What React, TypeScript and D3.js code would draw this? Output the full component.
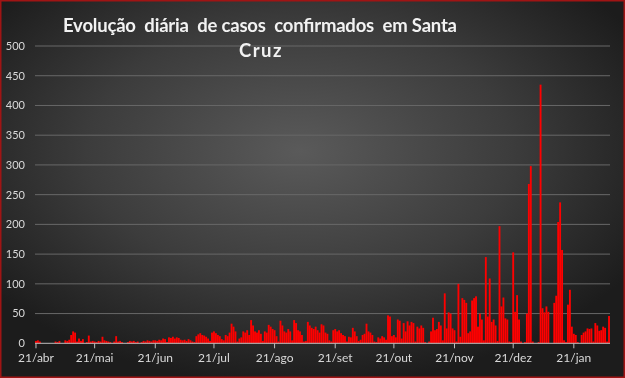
import React from "react";
import * as d3 from "d3";

const TITLE_LINE1 = "Evolução  diária  de casos  confirmados  em Santa";
const TITLE_LINE2 = "Cruz";
const START = new Date(2020, 3, 21);
const MONTHS = ["jan", "fev", "mar", "abr", "mai", "jun", "jul", "ago", "set", "out", "nov", "dez"];
const Y_TICKS = [0, 50, 100, 150, 200, 250, 300, 350, 400, 450, 500];
const TICK_DATES = [
  new Date(2020, 3, 21), new Date(2020, 4, 21), new Date(2020, 5, 21), new Date(2020, 6, 21),
  new Date(2020, 7, 21), new Date(2020, 8, 21), new Date(2020, 9, 21), new Date(2020, 10, 21),
  new Date(2020, 11, 21), new Date(2021, 0, 21),
];
const DAILY_CASES = [
  4, 5, 3, 0, 0, 0, 0, 0, 0, 0,
  3, 2, 4, 0, 0, 5, 4, 6, 14, 20,
  18, 3, 8, 4, 7, 0, 2, 13, 3, 4,
  3, 2, 4, 3, 11, 5, 4, 3, 2, 0,
  3, 12, 3, 4, 2, 0, 0, 2, 4, 3,
  4, 2, 3, 0, 2, 4, 3, 5, 4, 3,
  5, 5, 4, 6, 5, 8, 7, 2, 10, 9,
  11, 8, 10, 9, 6, 5, 6, 4, 7, 5,
  3, 2, 12, 15, 17, 14, 13, 11, 8, 4,
  18, 20, 17, 14, 12, 7, 5, 14, 12, 18,
  33, 28, 20, 3, 8, 10, 20, 18, 22, 14,
  39, 30, 20, 18, 22, 16, 4, 20, 18, 31,
  28, 24, 22, 12, 3, 38, 30, 20, 18, 24,
  20, 5, 39, 34, 22, 20, 14, 3, 4, 36,
  30, 26, 24, 28, 22, 18, 32, 30, 18, 16,
  5, 3, 22, 24, 20, 22, 17, 14, 12, 3,
  11, 10, 26, 20, 12, 4, 6, 14, 16, 33,
  20, 18, 14, 3, 2, 10, 8, 12, 10, 6,
  47, 45, 12, 14, 10, 40, 38, 8, 34, 20,
  37, 30, 36, 34, 3, 28, 25, 30, 26, 2,
  0, 3, 20, 43, 22, 24, 36, 30, 5, 84,
  25, 52, 50, 25, 22, 3, 100, 11, 76, 73,
  68, 17, 20, 72, 76, 79, 28, 50, 40, 5,
  145, 45, 109, 36, 40, 30, 4, 197, 62, 77,
  42, 40, 3, 2, 153, 53, 81, 40, 3, 0,
  2, 50, 268, 298, 3, 0, 0, 2, 435, 59,
  52, 62, 53, 0, 0, 68, 80, 204, 237, 157,
  5, 2, 65, 90, 28, 16, 14, 2, 0, 14,
  18, 20, 25, 24, 25, 3, 34, 30, 21, 22,
  28, 26, 3, 46,
];

const W = 625;
const H = 378;

export default function App() {
  const dates = DAILY_CASES.map((_, i) => d3.timeDay.offset(START, i));
  const half = 12 * 3600 * 1000;
  const x = d3
    .scaleTime()
    .domain([new Date(dates[0].getTime() - half), new Date(dates[dates.length - 1].getTime() + half)])
    .range([35, 610]);
  const y = d3.scaleLinear().domain([0, 500]).range([343.3, 46]);
  const step = x(dates[1]) - x(dates[0]);
  const bw = step * 0.95;
  const fmt = (d: Date) => `${d.getDate()}/${MONTHS[d.getMonth()]}`;

  return (
    <svg
      width={W}
      height={H}
      style={{ position: "fixed", left: 0, top: 0 }}
      fontFamily="Lato, 'Open Sans', sans-serif"
    >
      <defs>
        <radialGradient id="bg" cx="48%" cy="40%" r="62%">
          <stop offset="0%" stopColor="#5a5a5a" />
          <stop offset="55%" stopColor="#3c3c3c" />
          <stop offset="100%" stopColor="#1c1c1c" />
        </radialGradient>
      </defs>
      <rect x={0} y={0} width={W} height={H} fill="url(#bg)" />
      <rect x={0.75} y={0.75} width={W - 1.5} height={H - 1.5} fill="none" stroke="#a01414" strokeWidth={1.5} />

      {Y_TICKS.map((t) => (
        <g key={t}>
          {t > 0 && <line x1={35} x2={610} y1={y(t)} y2={y(t)} stroke="#686868" strokeWidth={1} />}
          <text x={25} y={y(t)} dy="0.35em" textAnchor="end" fontSize={11} fill="#d9d9d9">
            {t}
          </text>
        </g>
      ))}

      {DAILY_CASES.map((v, i) => (
        <rect
          key={i}
          x={x(dates[i]) - bw / 2}
          y={y(v)}
          width={bw}
          height={y(0) - y(v)}
          fill="#ff0000"
        />
      ))}

      <line x1={35} x2={610} y1={y(0)} y2={y(0)} stroke="#bfbfbf" strokeWidth={1} />
      {TICK_DATES.map((d, i) => (
        <g key={i}>
          <line x1={x(d)} x2={x(d)} y1={y(0)} y2={y(0) + 5} stroke="#bfbfbf" strokeWidth={1} />
          <text x={x(d)} y={361.5} textAnchor="middle" fontSize={12} fill="#d9d9d9">
            {fmt(d)}
          </text>
        </g>
      ))}

      <text
        x={260}
        y={32}
        textAnchor="middle"
        fontSize={18.5}
        fontWeight="bold"
        fill="#f2f2f2"
        textLength={394}
        lengthAdjust="spacing"
        style={{ whiteSpace: "pre" }}
      >
        {TITLE_LINE1}
      </text>
      <text x={261} y={57} textAnchor="middle" fontSize={18.5} fontWeight="bold" fill="#f2f2f2" letterSpacing={1.5}>
        {TITLE_LINE2}
      </text>
    </svg>
  );
}
